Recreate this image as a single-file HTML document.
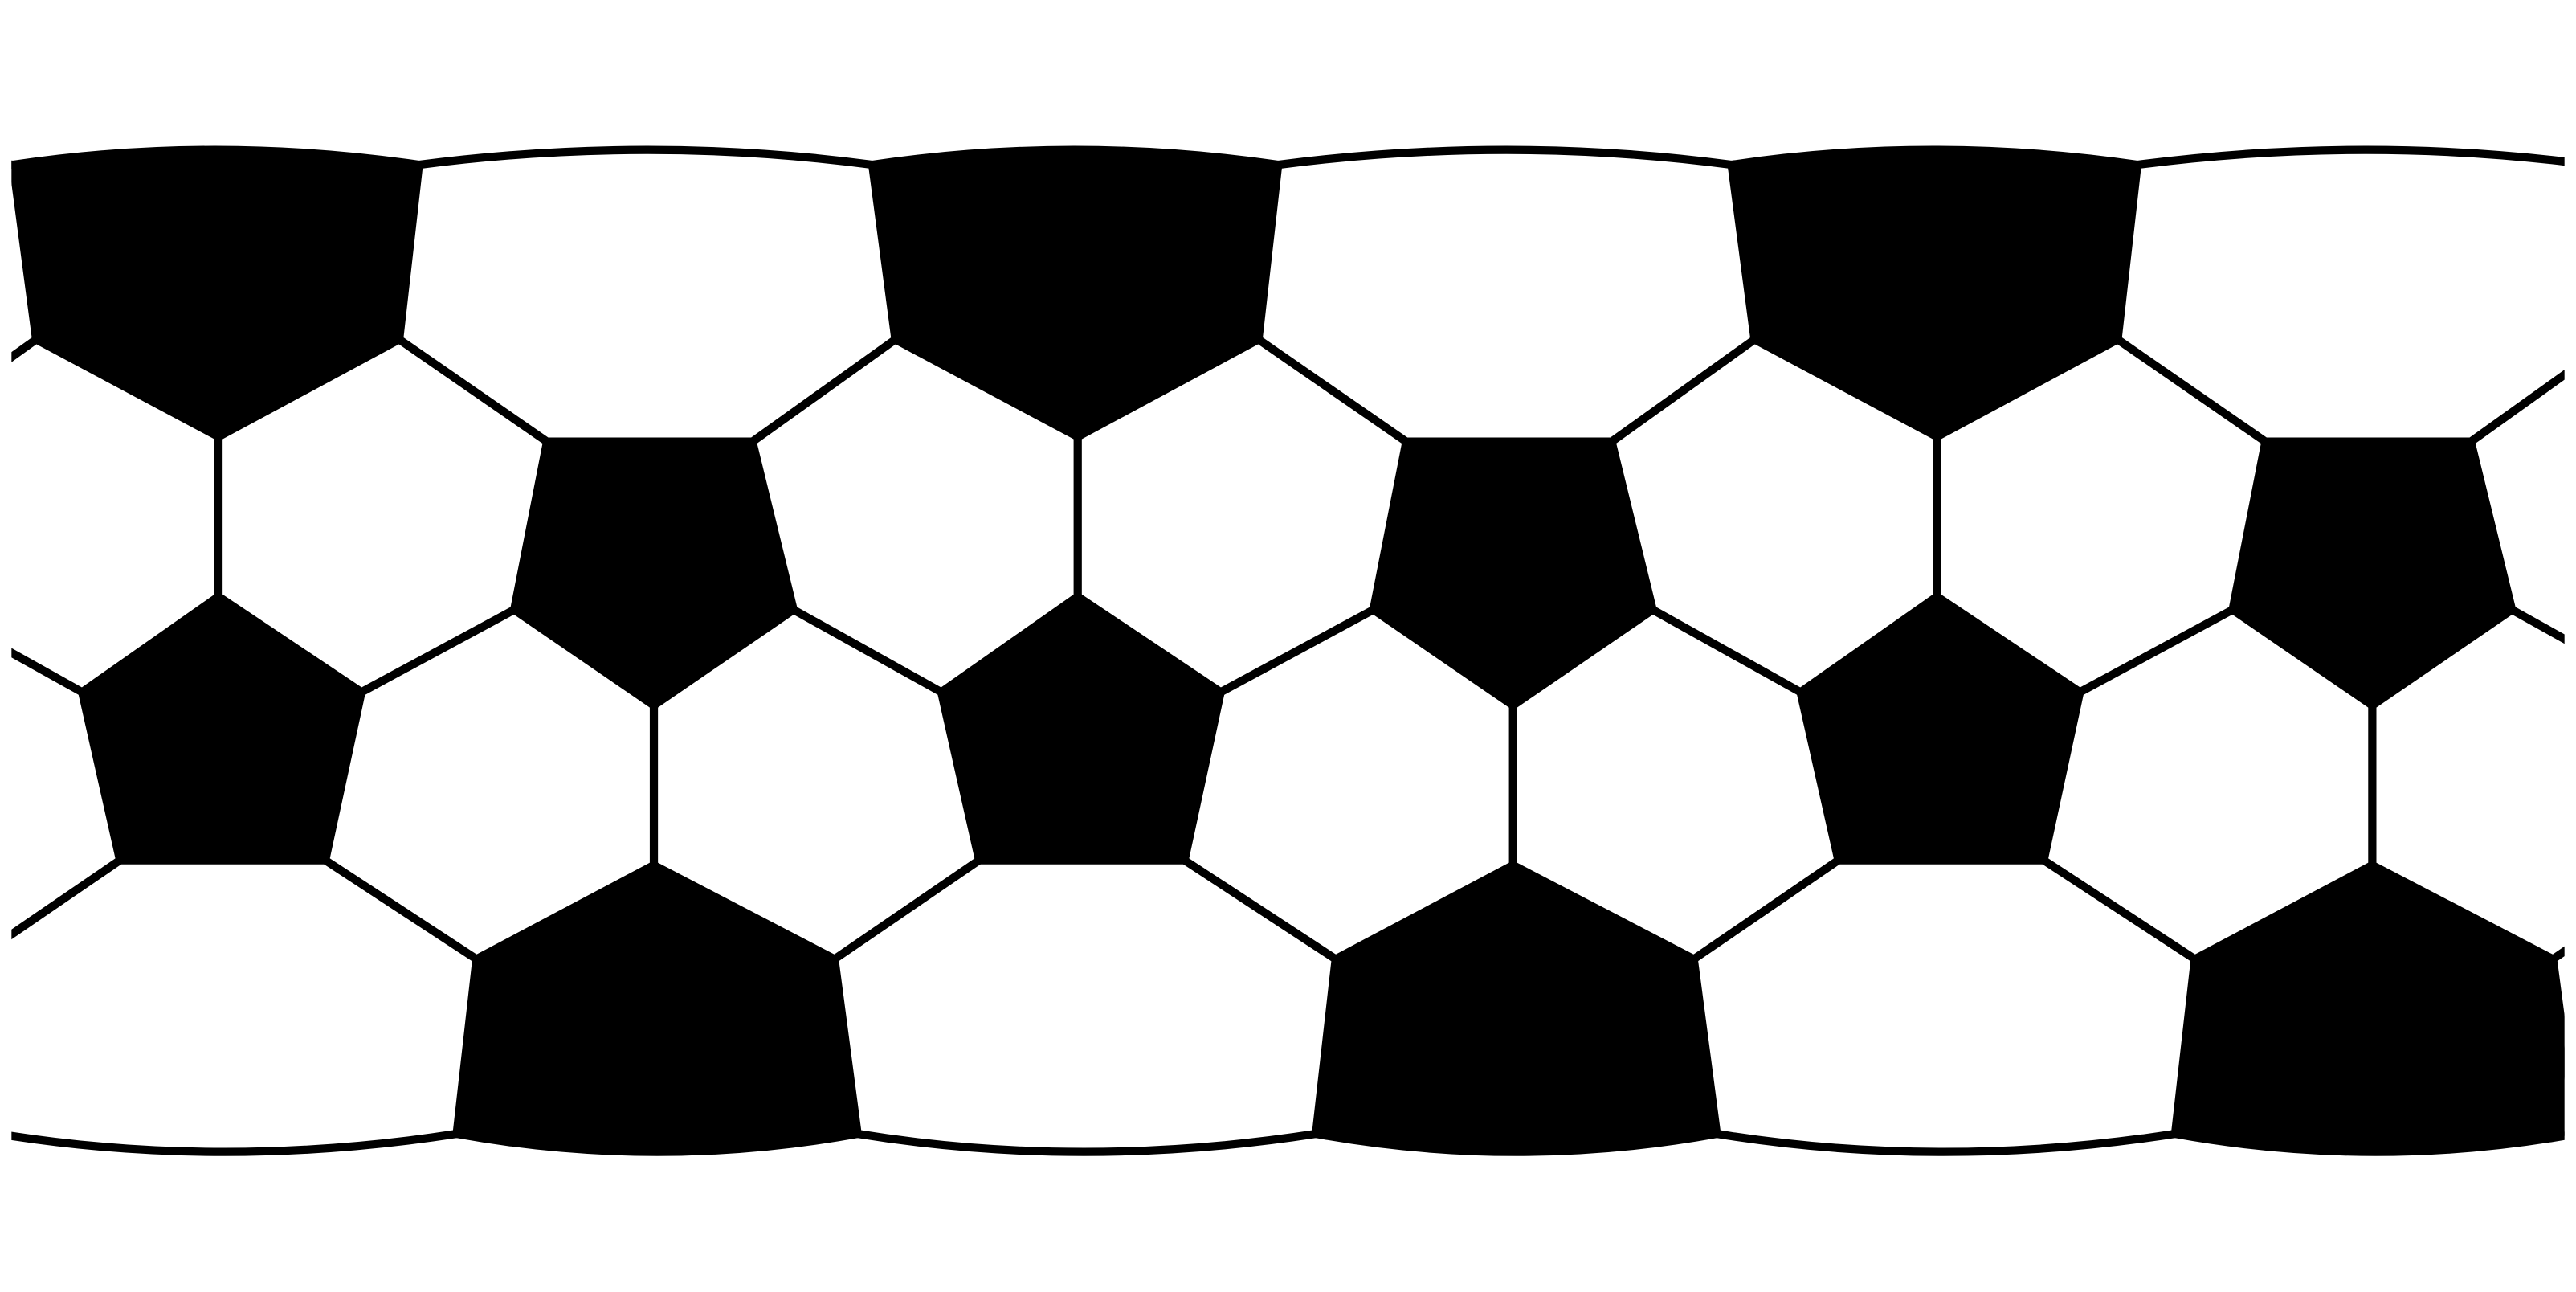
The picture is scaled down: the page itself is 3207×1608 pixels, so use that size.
<!DOCTYPE html>
<html>
<head>
<meta charset="utf-8">
<style>
  html,body{margin:0;padding:0;background:#fff;}
  svg{display:block;}
</style>
</head>
<body>
<svg width="3207" height="1608" viewBox="0 0 1568 784" preserveAspectRatio="none" xmlns="http://www.w3.org/2000/svg">
  <defs>
    <clipPath id="clip"><rect x="7" y="0" width="1554" height="784"/></clipPath>
    <g id="tile" stroke="#000" stroke-width="5" stroke-linejoin="round" stroke-linecap="round">
      <path d="M8,100 Q130,82 255,100 L243,206 L133,265 L22,206 Z" fill="#000"/>
      <path d="M255,100 Q395,82 531,100" fill="none"/>
      <path d="M333,268 L458,268 L483,370 L398,428 L313,370 Z" fill="#000"/>
      <path d="M133,362 L220,420 L198,522 L73,522 L50,420 Z" fill="#000"/>
      <path d="M290,582 L398,525 L508,582 L522,688 Q400,710 278,688 Z" fill="#000"/>
      <path d="M-1,688 Q135,710 278,688" fill="none"/>
      <path d="M243,206 L333,268 M458,268 L545,206 M133,265 L133,362 M220,420 L313,370 M483,370 L573,420 M398,428 L398,525 M198,522 L290,582 M508,582 L596,522" fill="none"/>
    </g>
  </defs>
  <rect x="0" y="0" width="1568" height="784" fill="#fff"/>
  <g clip-path="url(#clip)">
    <use href="#tile" x="-523"/>
    <use href="#tile" x="0"/>
    <use href="#tile" x="523"/>
    <use href="#tile" x="1046"/>
    <use href="#tile" x="1569"/>
  </g>
</svg>
</body>
</html>
